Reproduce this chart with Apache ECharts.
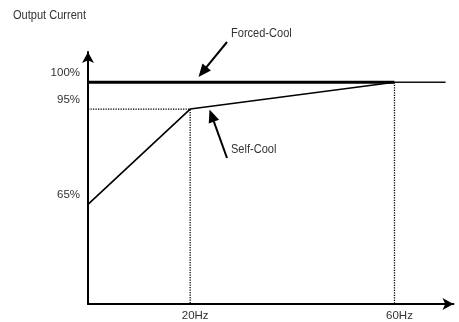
<!DOCTYPE html>
<html>
<head>
<meta charset="utf-8">
<script src="https://cdn.jsdelivr.net/npm/echarts@6/dist/echarts.min.js"></script>
<style>
  html, body { margin: 0; padding: 0; background: #fff; }
  #chart { width: 459px; height: 322px; }
</style>
</head>
<body>
<div id="chart"></div>
<script>
// Output current derating vs. output frequency
const forcedCoolHz = [0, 60];
const forcedCoolPct = [100, 100];
const forcedCoolTailHz = [60, 70];
const forcedCoolTailPct = [100, 100];
const selfCoolHz = [0, 20, 60];
const selfCoolPct = [65, 95, 100];
const freqTicks = [20, 60];
const freqTickLabels = ['20Hz', '60Hz'];
const currentTicks = [65, 95, 100];
const currentTickLabels = ['65%', '95%', '100%'];

const FONT = "'Liberation Sans', Arial, sans-serif";
const TEXT = '#333';

const pairs = (xs, ys) => xs.map((x, i) => [x, ys[i]]);

// dotted guides: knee of the self-cool curve down to the axes
const kneeHz = selfCoolHz[1], kneePct = selfCoolPct[1];
const guideKnee = [[0, kneePct], [kneeHz, kneePct], [kneeHz, 0]];
const guideRated = [[forcedCoolHz[1], forcedCoolPct[1]], [forcedCoolHz[1], 0]];

function arrow(tail, tip, len, width) {
  const dx = tip[0] - tail[0], dy = tip[1] - tail[1];
  const d = Math.hypot(dx, dy), ux = dx / d, uy = dy / d;
  const bx = tip[0] - ux * len, by = tip[1] - uy * len;
  const px = -uy * width / 2, py = ux * width / 2;
  return [
    { type: 'line', shape: { x1: tail[0], y1: tail[1], x2: bx + ux * 2, y2: by + uy * 2 },
      style: { stroke: '#000', lineWidth: 2 } },
    { type: 'polygon', shape: { points: [tip, [bx + px, by + py], [bx - px, by - py]] },
      style: { fill: '#000' } }
  ];
}

function note(text, x, y) {
  return { type: 'text', x: x, y: y, scaleX: 0.92,
    style: { text: text, fill: TEXT, font: '12px ' + FONT } };
}

const axisArrowLine = {
  show: true, onZero: false, symbol: ['none', 'arrow'], symbolSize: [9, 11],
  lineStyle: { color: '#000', width: 2 }
};

const guideStyle = { color: '#000', width: 1.3, type: [1.3, 1.2] };

const chart = echarts.init(document.getElementById('chart'), null, { renderer: 'canvas' });

chart.setOption({
  animation: false,
  backgroundColor: '#fff',
  grid: { left: 88, right: 5.5, top: 52, bottom: 16, containLabel: false },
  xAxis: {
    type: 'value', min: 0, max: 71.55,
    axisLine: axisArrowLine,
    axisTick: { show: false },
    splitLine: { show: false },
    axisLabel: {
      customValues: freqTicks,
      formatter: v => freqTickLabels[freqTicks.indexOf(v)] || '',
      color: TEXT, fontFamily: FONT, fontSize: 11.5, margin: 6,
      padding: [0, 0, 0, 10]
    }
  },
  yAxis: [
    {
      // compressed current scale (schematic spacing of 0-65-95-100 %)
      type: 'value', min: 0, max: 105.65,
      breaks: [
        { start: 5, end: 60, gap: 8.61 },
        { start: 70, end: 90, gap: 7.78 }
      ],
      breakArea: { show: false, itemStyle: { opacity: 0 } },
      axisLine: { show: false },
      axisTick: { show: false },
      splitLine: { show: false },
      splitArea: { show: false },
      axisLabel: {
        customValues: currentTicks,
        formatter: v => currentTickLabels[currentTicks.indexOf(v)] || '',
        color: TEXT, fontFamily: FONT, fontSize: 11.5, margin: 8,
        verticalAlign: 'bottom', padding: [0, 0, 3, 0]
      }
    },
    {
      // continuous axis line with arrow head
      type: 'value', min: 0, max: 1, position: 'left',
      axisLine: axisArrowLine,
      axisTick: { show: false },
      axisLabel: { show: false },
      splitLine: { show: false }
    }
  ],
  series: [
    { type: 'line', data: guideKnee, symbol: 'none', silent: true, lineStyle: guideStyle },
    { type: 'line', data: guideRated, symbol: 'none', silent: true, lineStyle: guideStyle },
    { name: 'Self-Cool', type: 'line', data: pairs(selfCoolHz, selfCoolPct), symbol: 'none',
      lineStyle: { color: '#000', width: 1.6 } },
    { name: 'Forced-Cool', type: 'line', data: pairs(forcedCoolTailHz, forcedCoolTailPct), symbol: 'none',
      lineStyle: { color: '#111', width: 1.5 } },
    { name: 'Forced-Cool', type: 'line', data: pairs(forcedCoolHz, forcedCoolPct), symbol: 'none',
      lineStyle: { color: '#000', width: 3 } }
  ],
  graphic: [
    note('Output Current', 13, 10),
    note('Forced-Cool', 231, 28),
    note('Self-Cool', 231, 144),
    ...arrow([227, 42], [198.5, 77], 13, 11),
    ...arrow([227, 158], [209.5, 109.5], 13, 11)
  ]
});
</script>
</body>
</html>
